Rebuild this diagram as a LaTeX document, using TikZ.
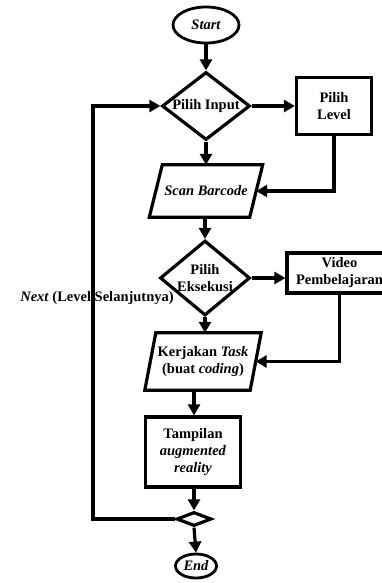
\documentclass[tikz,border=0pt]{standalone}
\usepackage{fontspec}
\setmainfont{Liberation Serif}
\usetikzlibrary{shapes.geometric,arrows.meta}
\begin{document}
\begin{tikzpicture}[x=1pt,y=-1pt,
  lw/.style={line width=3.2pt},
  txt/.style={font=\fontsize{14.5}{17}\selectfont\bfseries, align=center, inner sep=0pt},
  term/.style={txt, ellipse, draw, line width=2.8pt},
  dec/.style={txt, diamond, draw, lw, miter limit=20},
  proc/.style={txt, rectangle, draw, lw},
  io/.style={txt, rectangle},
  arr/.style={lw, -{Triangle[length=11pt,width=12pt]}}]
\clip (0,0) rectangle (382,583);
\fill[white] (0,0) rectangle (382,583);
% nodes
\node[term, minimum width=66pt, minimum height=36pt] (start) at (206,25) {\itshape Start};
\node[dec, aspect=1.3, minimum width=88pt, minimum height=68pt] (in) at (206,106) {Pilih Input};
\node[proc, minimum width=75pt, minimum height=57pt] (level) at (334,106) {Pilih\\Level};
\node[io, minimum width=100pt, minimum height=52pt] (scan) at (206,191) {\itshape Scan Barcode};
\draw[lw] ([xshift=6.5pt]scan.north west) -- ([xshift=6.5pt]scan.north east)
  -- ([xshift=-6.5pt]scan.south east) -- ([xshift=-6.5pt]scan.south west) -- cycle;
\node[dec, aspect=1.2, minimum width=90pt, minimum height=75pt] (exec) at (205,278) {Pilih\\Eksekusi};
\node[proc, minimum width=105pt, minimum height=40pt] (video) at (339.5,273) {Video\\Pembelajaran};
\node[io, minimum width=105pt, minimum height=57pt] (kerj) at (203,361.5) {Kerjakan \textit{Task}\\(buat \textit{coding})};
\draw[lw] ([xshift=5.5pt]kerj.north west) -- ([xshift=5.5pt]kerj.north east)
  -- ([xshift=-5.5pt]kerj.south east) -- ([xshift=-5.5pt]kerj.south west) -- cycle;
\node[proc, minimum width=95pt, minimum height=70pt] (tamp) at (193,452) {Tampilan\\\textit{augmented}\\\textit{reality}};
\node[dec, minimum width=35pt, minimum height=14pt, inner sep=0pt] (sd) at (194,519) {};
\node[term, minimum width=41pt, minimum height=24pt] (end) at (196,566) {\itshape End};
\coordinate (lx) at (93,0);
\node[txt] (nx) at (97,298) {\textit{Next} (Level Selanjutnya)};
% connectors
\draw[arr] (start.south) -- (in.north);
\draw[arr] (in.east) -- (level.west);
\draw[arr] (in.south) -- (scan.north);
\draw[arr] (level.south) |- (scan.east);
\draw[arr] (scan.south -| exec.north) -- (exec.north);
\draw[arr] (exec.east) -- (video.west |- exec.east);
\draw[arr] (exec.south) -- (exec.south |- kerj.north);
\draw[arr] (video.south) |- (kerj.east);
\draw[arr] (kerj.south -| sd.north) -- (sd.north |- tamp.north);
\draw[arr] (sd.north |- tamp.south) -- (sd.north);
\draw[arr] (sd.south) -- (end.north);
\draw[arr] (sd.west) -- (sd.west -| lx) |- (in.west);
\end{tikzpicture}
\end{document}
